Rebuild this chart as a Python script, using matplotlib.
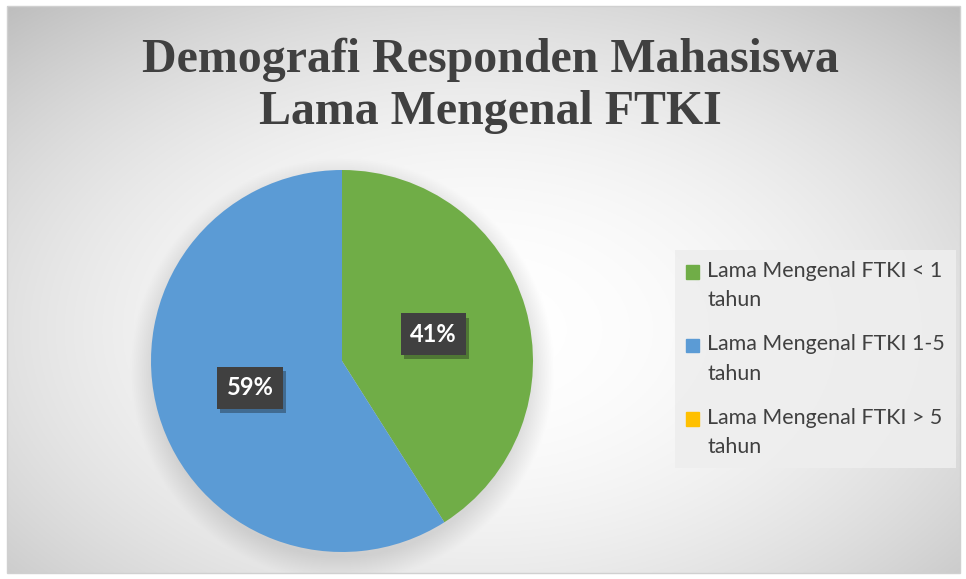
import matplotlib.pyplot as plt
import numpy as np
from matplotlib.patches import Patch, Rectangle
from matplotlib.legend_handler import HandlerPatch
from matplotlib.patheffects import SimplePatchShadow, Normal

# data
labels = ['Lama Mengenal FTKI < 1\ntahun',
          'Lama Mengenal FTKI 1-5\ntahun',
          'Lama Mengenal FTKI > 5\ntahun']
values = [41, 59, 0]
clr = ['#70AD47', '#5B9BD5', '#FFC000']
title = 'Demografi Responden Mahasiswa\nLama Mengenal FTKI'

W, H = 966, 579
fig = plt.figure(figsize=(W / 100, H / 100), dpi=100)
fig.patch.set_facecolor('white')

# chart area with radial grey gradient and soft pie shadow
x0, y0, x1, y1 = 7, 6, 960, 573
bg = fig.add_axes([x0 / W, 1 - y1 / H, (x1 - x0) / W, (y1 - y0) / H])
gx, gy = np.meshgrid(np.linspace(x0, x1, 480), np.linspace(y0, y1, 300))
r2 = ((gx - 480) / 480) ** 2 + ((gy - 330) / 300) ** 2
grad = 1 - 0.12 * r2
# shadow of the pie: blurred disk slightly lower than pie
d = np.hypot(gx - 342, gy - 370)
shade = np.clip((200 - d) / 25 + 0.5, 0, 1)
grad = grad * (1 - 0.12 * shade)
grad = np.clip(grad, 0, 1)
bg.imshow(np.dstack([grad] * 3), extent=[0, 1, 0, 1], aspect='auto', origin='upper')
bg.set_xlim(0, 1)
bg.set_ylim(0, 1)
bg.axis('off')
fig.patches.append(Rectangle((x0 / W, 1 - y1 / H), (x1 - x0) / W, (y1 - y0) / H,
                             transform=fig.transFigure, fill=False,
                             edgecolor='#d0d0d0', linewidth=1))

# pie
cx, cy, rad = 342, 361, 191
ax = fig.add_axes([(cx - rad) / W, 1 - (cy + rad) / H, 2 * rad / W, 2 * rad / H])
wedges, texts, autotexts = ax.pie(
    values, colors=clr, startangle=90, counterclock=False, radius=1,
    autopct=lambda p: '%d%%' % round(p) if p > 0 else '', pctdistance=0.5,
    wedgeprops=dict(linewidth=0),
    textprops=dict(color='white', fontsize=17, fontweight='bold', family='Lato'))
for t in autotexts:
    if t.get_text():
        t.set_bbox(dict(boxstyle='square,pad=0.4', facecolor='#404040', edgecolor='none'))
        t.get_bbox_patch().set_path_effects([SimplePatchShadow(offset=(2, -3), alpha=0.35), Normal()])
ax.set_xlim(-1, 1)
ax.set_ylim(-1, 1)
ax.axis('off')

# title
fig.text(490 / W, 1 - 86 / H, title, ha='center', va='center', fontsize=34.5,
         fontweight='bold', family='Liberation Serif', color='#404040',
         linespacing=1.25)


# legend squares sit on the first line of each two-line label
def top_square(legend, orig_handle, xdescent, ydescent, width, height, fontsize):
    return Rectangle((-xdescent, -ydescent + 10), width, height)


elment = [Patch(facecolor=c, edgecolor=c, label=l) for c, l in zip(clr, labels)]
leg = fig.legend(handles=elment, loc='upper left', bbox_to_anchor=(675 / W, 1 - 250 / H),
                 handler_map={Patch: HandlerPatch(patch_func=top_square)},
                 frameon=True, fancybox=False, facecolor='#eeeeee', edgecolor='none',
                 framealpha=0.9, prop=dict(family='Lato', size=15.4),
                 handlelength=0.6, handleheight=0.6, handletextpad=0.4,
                 labelspacing=1.12, borderpad=0.5, borderaxespad=0)
for t in leg.get_texts():
    t.set_color('#404040')
    t.set_linespacing(1.6)

fig.savefig('out.png', dpi=100)
